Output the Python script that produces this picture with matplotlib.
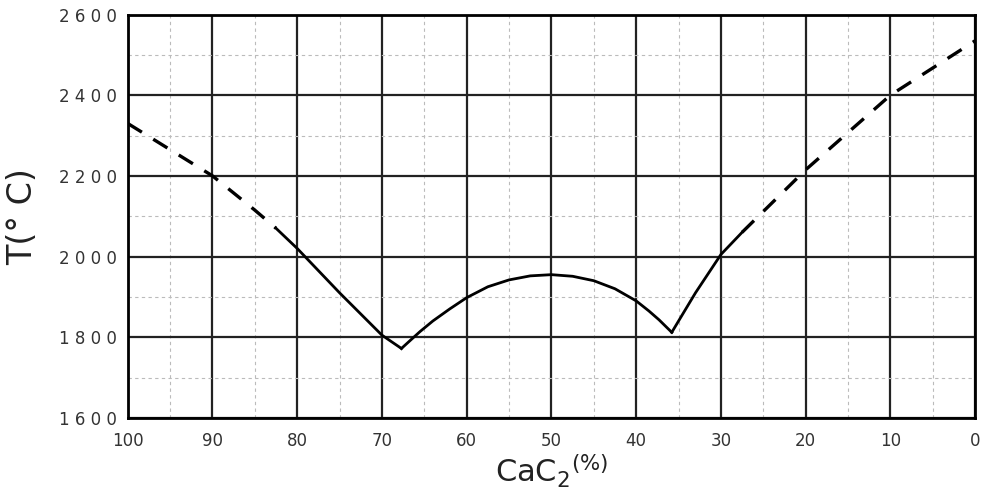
import numpy as np
import matplotlib.pyplot as plt

# Diagrama de fases CaO - CaC2
x_izq_disc = [100, 95, 90, 85, 82.5]
T_izq_disc = [2330, 2265, 2200, 2115, 2070]

x_izq = [82.5, 80, 75, 70, 67.7]
T_izq = [2070, 2020, 1910, 1805, 1772]

x_cupula = [67.7, 66.5, 65.5, 64, 62, 60, 57.5, 55, 52.5, 50, 47.5, 45, 42.5, 40, 38.5, 37.3, 35.8]
T_cupula = [1772, 1795, 1814, 1840, 1870, 1898, 1925, 1942, 1952, 1955, 1951, 1940, 1920, 1890, 1865, 1843, 1812]

x_der = [35.8, 33, 30, 27.5]
T_der = [1812, 1910, 2005, 2060]

x_der_disc = [27.5, 20, 10, 0]
T_der_disc = [2060, 2215, 2400, 2535]

xticks = [100, 90, 80, 70, 60, 50, 40, 30, 20, 10, 0]
yticks = [1600, 1800, 2000, 2200, 2400, 2600]

fig = plt.figure(figsize=(9.9, 5.01), dpi=100)
ax = fig.add_axes([0.129, 0.166, 0.856, 0.805])

ax.set_xlim(100, 0)
ax.set_ylim(1600, 2600)

# rejilla principal y secundaria
ax.set_xticks(xticks)
ax.set_yticks(yticks)
ax.set_xticks(np.arange(0, 101, 5), minor=True)
ax.set_yticks(np.arange(1600, 2601, 100), minor=True)
ax.grid(which='major', color='#222222', linewidth=1.6)
ax.grid(which='minor', color='#bbbbbb', linewidth=0.8, linestyle=(0, (3, 3)))
ax.set_axisbelow(True)

lw = 2.0
ax.plot(x_izq_disc, T_izq_disc, color='black', linewidth=2.4, linestyle=(0, (5, 4)))
ax.plot(x_izq, T_izq, color='black', linewidth=lw)
ax.plot(x_cupula, T_cupula, color='black', linewidth=lw)
ax.plot(x_der, T_der, color='black', linewidth=lw)
ax.plot(x_der_disc, T_der_disc, color='black', linewidth=2.4, linestyle=(0, (5, 4)))

for s in ax.spines.values():
    s.set_linewidth(2.0)
    s.set_color('black')

ax.tick_params(which='both', length=0)
ax.tick_params(axis='x', pad=10, labelsize=12, colors='#333333')
ax.tick_params(axis='y', pad=8, labelsize=12, colors='#333333')
ax.set_xticklabels([str(v) for v in xticks])
ax.set_yticklabels([' '.join(str(v)) for v in yticks])

ax.set_ylabel('T(° C)', fontsize=24, labelpad=14, color='#222222')
ax.set_xlabel(r'CaC$_2$$^{(\%)}$', fontsize=22, labelpad=2, color='#222222')

fig.savefig('out.png', dpi=100)
